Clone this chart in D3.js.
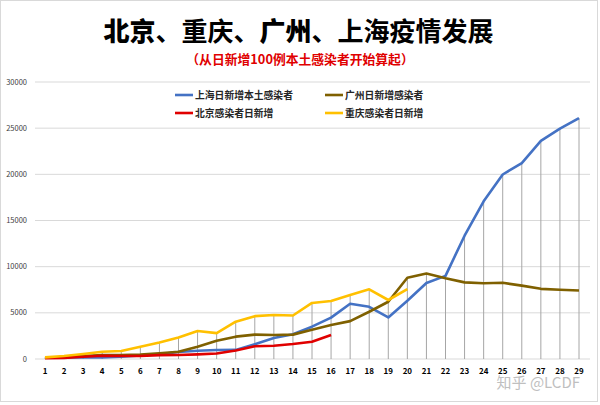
<!DOCTYPE html>
<html><head><meta charset="utf-8">
<script src="https://cdn.jsdelivr.net/npm/d3@7"></script>
<style>
html,body{margin:0;padding:0;background:#fff;}
svg{display:block;font-family:"Noto Sans CJK SC","Noto Sans",sans-serif;}
</style></head>
<body><svg id="c" width="600" height="405"></svg>
<script>
const days = d3.range(1, 30);
const yTicks = [0, 5000, 10000, 15000, 20000, 25000, 30000];
const shanghai = [169,139,202,158,260,374,509,758,896,981,983,1609,2269,2676,3500,4477,5982,5653,4502,6311,8226,9006,13354,17077,19982,21222,23624,24944,26087];
const guangzhou = [150,200,330,430,430,470,620,780,1330,1980,2420,2640,2600,2640,3180,3680,4100,5120,6200,8800,9250,8750,8300,8200,8250,7950,7600,7500,7420];
const beijing = [100,120,250,350,330,330,420,430,500,600,920,1380,1430,1620,1860,2600];
const chongqing = [180,320,540,790,870,1330,1790,2330,3030,2800,4040,4640,4770,4710,6070,6280,6930,7550,6390,7580];
const seriesNames = ["上海日新增本土感染者","广州日新增感染者","北京感染者日新增","重庆感染者日新增"];
const seriesColors = ["#4472C4","#7F6000","#E00000","#FFC000"];
const seriesData = [shanghai, guangzhou, beijing, chongqing];

const svg = d3.select("#c");
svg.append("rect").attr("x",0.5).attr("y",0.5).attr("width",597).attr("height",401)
  .attr("fill","#fff").attr("stroke","#d9d9d9");

const x = d3.scaleLinear().domain([1,29]).range([45,579]);
const y = d3.scaleLinear().domain([0,30000]).range([359,82]);

// gridlines
svg.append("g").selectAll("line").data(yTicks).join("line")
  .attr("x1",35).attr("x2",590).attr("y1",d=>y(d)).attr("y2",d=>y(d))
  .attr("stroke","#d9d9d9").attr("stroke-width",1);

// y labels
svg.append("g").selectAll("text").data(yTicks).join("text")
  .attr("x",27).attr("y",d=>y(d)+2.5).attr("text-anchor","end")
  .attr("font-size",7.5).attr("fill","#404040").text(d=>d);

// drop lines
const maxAt = days.map((d,i)=>d3.max(seriesData, s => i < s.length ? s[i] : 0));
svg.append("g").selectAll("line").data(days).join("line")
  .attr("x1",d=>x(d)).attr("x2",d=>x(d)).attr("y1",y(0)).attr("y2",(d,i)=>y(maxAt[i]))
  .attr("stroke","#a6a6a6").attr("stroke-width",1);

// x labels
svg.append("g").selectAll("text").data(days).join("text")
  .attr("x",d=>x(d)).attr("y",373.5).attr("text-anchor","middle")
  .attr("font-size",8).attr("font-weight","bold").attr("fill","#000").text(d=>d);

// lines
const line = d3.line().x((d,i)=>x(i+1)).y(d=>y(d));
seriesData.forEach((s,k)=>{
  svg.append("path").datum(s).attr("d",line).attr("fill","none")
    .attr("stroke",seriesColors[k]).attr("stroke-width",2.6)
    .attr("stroke-linejoin","round").attr("stroke-linecap","butt");
});

// legend
svg.append("rect").attr("x",168).attr("y",84).attr("width",266).attr("height",43).attr("fill","#fff");
const legPos = [[175,95],[325,95],[175,113],[325,113]];
seriesNames.forEach((n,k)=>{
  const [lx,ly] = legPos[k];
  svg.append("line").attr("x1",lx).attr("x2",lx+18).attr("y1",ly).attr("y2",ly)
    .attr("stroke",seriesColors[k]).attr("stroke-width",2.6);
  svg.append("text").attr("x",lx+20).attr("y",ly+3.6).attr("font-size",9.8)
    .attr("font-weight","bold").attr("fill","#262626").text(n);
});

// title
const t = svg.append("text").attr("x",298.5).attr("y",41).attr("text-anchor","middle")
  .attr("font-size",26).attr("fill","#000");
[["北京",900],["、重庆、",700],["广州",900],["、上海疫情发展",700]].forEach(([s,w])=>{
  t.append("tspan").attr("font-weight",w).text(s);
});
svg.append("text").attr("x",300).attr("y",64).attr("text-anchor","middle")
  .attr("font-size",12.8).attr("font-weight","bold").attr("fill","#E00000")
  .text("（从日新增100例本土感染者开始算起）");

// watermark
svg.append("text").attr("x",580).attr("y",388).attr("text-anchor","end")
  .attr("font-size",15).attr("fill","#bfbfbf").attr("font-family","'Noto Sans CJK SC',sans-serif")
  .text("知乎 @LCDF");
</script></body></html>
